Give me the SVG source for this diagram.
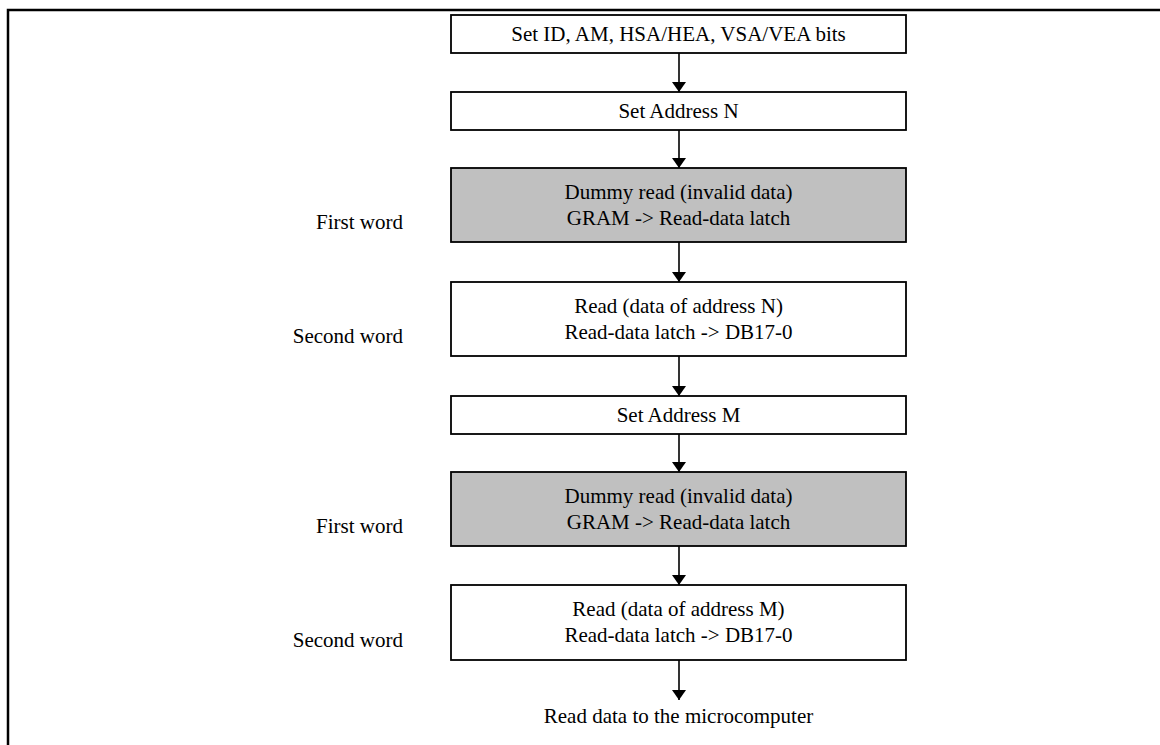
<svg xmlns="http://www.w3.org/2000/svg" width="1160" height="745" viewBox="0 0 1160 745">
<defs>
<marker id="ah" markerWidth="10" markerHeight="14" refX="10" refY="7" orient="auto" markerUnits="userSpaceOnUse">
<path d="M0,0 L10,7 L0,14 Z" fill="#000"/>
</marker>
</defs>
<style>
.box{fill:#fff;stroke:#000;stroke-width:1.8}
.gray{fill:#c0c0c0;stroke:#000;stroke-width:1.8}
.t{font-family:"Liberation Serif","Times New Roman",serif;font-size:21px;fill:#000}
.c{text-anchor:middle}
.r{text-anchor:end}
.conn{stroke:#000;stroke-width:1.6;fill:none}
</style>
<rect width="1160" height="745" fill="#fff"/>
<path d="M8,745 V10 H1160" fill="none" stroke="#000" stroke-width="2.5"/>
<g id="n1"><rect class="box" x="451" y="15" width="455" height="38"/><text class="t c" x="678.5" y="41">Set ID, AM, HSA/HEA, VSA/VEA bits</text></g>
<g id="n2"><rect class="box" x="451" y="92" width="455" height="38"/><text class="t c" x="678.5" y="118">Set Address N</text></g>
<g id="n3"><rect class="gray" x="451" y="168" width="455" height="74"/><text class="t c" x="678.5" y="199">Dummy read (invalid data)</text><text class="t c" x="678.5" y="225">GRAM -&gt; Read-data latch</text></g>
<g id="n4"><rect class="box" x="451" y="282" width="455" height="74"/><text class="t c" x="678.5" y="313">Read (data of address N)</text><text class="t c" x="678.5" y="339">Read-data latch -&gt; DB17-0</text></g>
<g id="n5"><rect class="box" x="451" y="396" width="455" height="38"/><text class="t c" x="678.5" y="422">Set Address M</text></g>
<g id="n6"><rect class="gray" x="451" y="472" width="455" height="74"/><text class="t c" x="678.5" y="503">Dummy read (invalid data)</text><text class="t c" x="678.5" y="529">GRAM -&gt; Read-data latch</text></g>
<g id="n7"><rect class="box" x="451" y="585" width="455" height="75"/><text class="t c" x="678.5" y="616">Read (data of address M)</text><text class="t c" x="678.5" y="642">Read-data latch -&gt; DB17-0</text></g>
<g id="n8"><text class="t c" x="678.5" y="723">Read data to the microcomputer</text></g>
<g id="labels">
<text class="t r" x="403" y="229">First word</text>
<text class="t r" x="403" y="343">Second word</text>
<text class="t r" x="403" y="533">First word</text>
<text class="t r" x="403" y="647">Second word</text>
</g>
<g id="connectors">
<line class="conn" x1="679" y1="53" x2="679" y2="92" marker-end="url(#ah)"/>
<line class="conn" x1="679" y1="130" x2="679" y2="168" marker-end="url(#ah)"/>
<line class="conn" x1="679" y1="242" x2="679" y2="282" marker-end="url(#ah)"/>
<line class="conn" x1="679" y1="356" x2="679" y2="396" marker-end="url(#ah)"/>
<line class="conn" x1="679" y1="434" x2="679" y2="472" marker-end="url(#ah)"/>
<line class="conn" x1="679" y1="546" x2="679" y2="585" marker-end="url(#ah)"/>
<line class="conn" x1="679" y1="660" x2="679" y2="700" marker-end="url(#ah)"/>
</g>
</svg>
